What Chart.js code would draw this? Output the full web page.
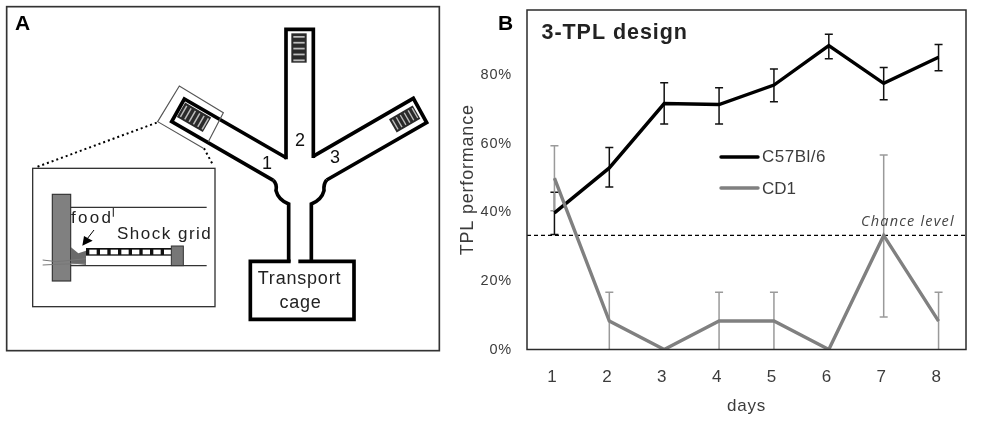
<!DOCTYPE html>
<html>
<head>
<meta charset="utf-8">
<title>3-TPL design</title>
<script src="https://cdn.jsdelivr.net/npm/chart.js@4"></script>
<style>
html,body{margin:0;padding:0;background:#fff;overflow:hidden}
canvas{display:block;filter:blur(0.35px)}
</style>
</head>
<body>
<canvas id="c" width="1000" height="422"></canvas>
<script>
const days = ['1','2','3','4','5','6','7','8'];
const c57Values = [39.9, 53.0, 71.8, 71.5, 77.2, 88.7, 77.7, 85.3];
const c57High = [45.9, 59.0, 77.9, 76.4, 81.9, 92.0, 82.3, 89.0];
const c57Low = [33.6, 47.4, 65.8, 65.8, 72.3, 84.9, 72.9, 81.4];
const cd1Values = [50.0, 8.3, 0, 8.3, 8.3, 0, 33.3, 8.3];
const cd1High = [59.5, 16.7, 0, 16.7, 16.7, 0, 56.8, 16.7];
const cd1Low = [40.5, 0, 0, 0, 0, 0, 9.5, 0];
const chanceLevel = 33.3;
const FONT = '"Liberation Sans", Arial, sans-serif';
const TEXT = '#3c3c3c';

function text(ctx, s, x, y, font, color, align, spacing) {
  ctx.font = font;
  ctx.fillStyle = color || TEXT;
  ctx.textAlign = align || 'left';
  ctx.textBaseline = 'middle';
  ctx.letterSpacing = (spacing || 0) + 'px';
  ctx.fillText(s, x, y);
  ctx.letterSpacing = '0px';
}
function poly(ctx, pts, close) {
  ctx.beginPath();
  pts.forEach((p, i) => i ? ctx.lineTo(p[0], p[1]) : ctx.moveTo(p[0], p[1]));
  if (close) ctx.closePath();
}
function stripedGrid(ctx, cx, cy, w, h, angle, n) {
  ctx.save();
  ctx.translate(cx, cy);
  ctx.rotate(angle);
  ctx.fillStyle = '#2a2a2a';
  ctx.fillRect(-w / 2, -h / 2, w, h);
  ctx.fillStyle = '#bdbdbd';
  const step = w / n;
  for (let i = 0; i < n; i++) {
    ctx.fillRect(-w / 2 + step * i + step * 0.45, -h / 2 + 6, step * 0.3, h - 12);
  }
  ctx.restore();
}

const spacing = {
  id: 'spacing',
  beforeDraw(chart) { chart.ctx.letterSpacing = '0.8px'; },
  afterDatasetsDraw(chart) { chart.ctx.letterSpacing = '0px'; }
};

const schematic = {
  id: 'schematic',
  afterDraw(chart) {
    const ctx = chart.ctx;
    ctx.save();
    ctx.lineJoin = 'miter';
    ctx.lineCap = 'butt';
    ctx.scale(1 / 3, 1 / 3);

    // panel frame
    ctx.strokeStyle = '#333';
    ctx.lineWidth = 5;
    ctx.strokeRect(20, 20, 1298, 1032);

    // maze outline
    ctx.strokeStyle = '#000';
    ctx.lineWidth = 11;
    poly(ctx, [[858,478],[858,88],[940,88],[940,474]]);
    ctx.stroke();
    poly(ctx, [[860,474],[553,297],[515,365],[820,541]]);
    ctx.stroke();
    poly(ctx, [[938,470],[1240,295],[1280,368],[980,540]]);
    ctx.stroke();
    ctx.beginPath();
    ctx.moveTo(820, 541);
    ctx.quadraticCurveTo(832, 552, 828, 572);
    ctx.quadraticCurveTo(835, 600, 866, 612);
    ctx.lineTo(866, 785);
    ctx.stroke();
    ctx.beginPath();
    ctx.moveTo(980, 540);
    ctx.quadraticCurveTo(970, 552, 972, 572);
    ctx.quadraticCurveTo(965, 600, 934, 612);
    ctx.lineTo(934, 785);
    ctx.stroke();
    poly(ctx, [[872,784],[751,784],[751,958],[1062,958],[1062,784],[895,784]]);
    ctx.stroke();

    // shock grids
    stripedGrid(ctx, 897, 144, 88, 46, Math.PI / 2, 5);
    stripedGrid(ctx, 582, 352, 90, 50, Math.PI / 6, 6);
    stripedGrid(ctx, 1214, 357, 82, 46, -Math.PI / 6, 6);

    // magnifier box and dotted leaders
    ctx.strokeStyle = '#555';
    ctx.lineWidth = 3.5;
    poly(ctx, [[625,425],[670,338],[538,258],[473,365],[610,445]]);
    ctx.stroke();
    ctx.strokeStyle = '#000';
    ctx.lineWidth = 6;
    ctx.setLineDash([6, 9]);
    poly(ctx, [[470,368],[105,503]]);
    ctx.stroke();
    poly(ctx, [[612,445],[640,497]]);
    ctx.stroke();
    ctx.setLineDash([]);

    // inset
    ctx.strokeStyle = '#333';
    ctx.lineWidth = 4;
    ctx.strokeRect(98, 505, 547, 415);
    ctx.lineWidth = 3.5;
    poly(ctx, [[212,622],[620,622]]); ctx.stroke();
    poly(ctx, [[212,797],[620,797]]); ctx.stroke();
    poly(ctx, [[340,622],[340,650]]); ctx.stroke();
    ctx.fillStyle = '#808080';
    ctx.fillRect(157, 583, 55, 260);
    ctx.strokeRect(157, 583, 55, 260);
    // animal
    ctx.fillStyle = '#6a6a6a';
    poly(ctx, [[213,742],[235,760],[258,752],[258,795],[213,790]], true);
    ctx.fill();
    ctx.strokeStyle = '#777';
    ctx.lineWidth = 3;
    poly(ctx, [[128,780],[170,785],[258,776]]); ctx.stroke();
    poly(ctx, [[128,795],[170,793],[258,790]]); ctx.stroke();
    // ladder
    ctx.fillStyle = '#111';
    ctx.fillRect(258, 744, 256, 23);
    ctx.fillStyle = '#fff';
    for (let x = 268; x < 505; x += 32) ctx.fillRect(x, 749, 22, 14);
    ctx.fillStyle = '#777';
    ctx.strokeStyle = '#333';
    ctx.lineWidth = 3;
    ctx.fillRect(514, 738, 36, 59);
    ctx.strokeRect(514, 738, 36, 59);
    // arrow
    ctx.fillStyle = '#000';
    poly(ctx, [[247,737],[252,708],[278,722]], true);
    ctx.fill();
    ctx.strokeStyle = '#000';
    ctx.lineWidth = 3;
    poly(ctx, [[262,716],[282,690]]); ctx.stroke();
    ctx.restore();

    // panel A text
    ctx.save();
    text(ctx, 'A', 15, 24, 'bold 21px ' + FONT, '#000');
    text(ctx, '1', 267, 164, '18px ' + FONT, '#111', 'center');
    text(ctx, '2', 300, 141, '18px ' + FONT, '#111', 'center');
    text(ctx, '3', 335, 158, '18px ' + FONT, '#111', 'center');
    text(ctx, 'Transport', 299.5, 279, '18px ' + FONT, '#222', 'center', 0.8);
    text(ctx, 'cage', 300.5, 303, '18px ' + FONT, '#222', 'center', 0.8);
    text(ctx, 'food', 71, 218, '17px ' + FONT, '#222', 'left', 2.3);
    text(ctx, 'Shock grid', 117, 234, '17px ' + FONT, '#222', 'left', 1.5);

    // panel B text and frame
    const a = chart.chartArea;
    ctx.strokeStyle = '#2b2b2b';
    ctx.lineWidth = 1.5;
    ctx.strokeRect(a.left, a.top, a.right - a.left, a.bottom - a.top);
    text(ctx, 'B', 498, 24, 'bold 21px ' + FONT, '#000');
    text(ctx, '3-TPL design', 541.5, 33, 'bold 21.5px ' + FONT, '#222', 'left', 0.95);
    text(ctx, 'Chance level', 861, 221.5, 'italic 14.5px "Open Sans", ' + FONT, '#444', 'left', 1.2);

    // legend
    ctx.lineCap = 'round';
    ctx.lineWidth = 3.4;
    ctx.strokeStyle = chart.data.datasets[0].borderColor;
    poly(ctx, [[721,157],[758,157]]); ctx.stroke();
    ctx.strokeStyle = chart.data.datasets[1].borderColor;
    poly(ctx, [[721,188],[758,188]]); ctx.stroke();
    text(ctx, chart.data.datasets[0].label, 762, 157.5, '17px ' + FONT, TEXT, 'left', 0.5);
    text(ctx, chart.data.datasets[1].label, 762, 189, '17px ' + FONT, TEXT, 'left', 0);
    ctx.restore();
  }
};

const errorBars = {
  id: 'errorBars',
  beforeDatasetsDraw(chart) {
    const ctx = chart.ctx, x = chart.scales.x, y = chart.scales.y;
    const draw = (hi, lo, color) => {
      ctx.strokeStyle = color;
      ctx.lineWidth = 1.5;
      days.forEach((d, i) => {
        if (hi[i] === lo[i]) return;
        const px = x.getPixelForValue(i);
        const top = y.getPixelForValue(hi[i]), bot = y.getPixelForValue(lo[i]);
        ctx.beginPath();
        ctx.moveTo(px, top); ctx.lineTo(px, bot);
        ctx.moveTo(px - 4, top); ctx.lineTo(px + 4, top);
        if (lo[i] > 0) { ctx.moveTo(px - 4, bot); ctx.lineTo(px + 4, bot); }
        ctx.stroke();
      });
    };
    ctx.save();
    draw(c57High, c57Low, '#111');
    draw(cd1High, cd1Low, '#9a9a9a');
    // chance level
    const cy = y.getPixelForValue(chanceLevel);
    ctx.strokeStyle = '#000';
    ctx.lineWidth = 1.3;
    ctx.setLineDash([4, 3]);
    ctx.beginPath();
    ctx.moveTo(chart.chartArea.left, cy);
    ctx.lineTo(chart.chartArea.right, cy);
    ctx.stroke();
    ctx.restore();
  }
};

Chart.defaults.font.family = FONT;
new Chart(document.getElementById('c'), {
  type: 'line',
  data: {
    labels: days,
    datasets: [
      { label: 'C57Bl/6', data: c57Values, borderColor: '#000000', borderWidth: 3.4, pointRadius: 0, tension: 0, order: 1, borderJoinStyle: 'miter' },
      { label: 'CD1', data: cd1Values, borderColor: '#808080', borderWidth: 3.4, pointRadius: 0, tension: 0, order: 0, borderJoinStyle: 'miter' }
    ]
  },
  options: {
    responsive: false,
    animation: false,
    events: [],
    layout: { padding: { left: 455, right: 34, top: 10, bottom: 0 } },
    plugins: { legend: { display: false }, tooltip: { enabled: false }, title: { display: false } },
    scales: {
      x: {
        offset: true,
        grid: { display: false, drawTicks: false },
        border: { display: false },
        ticks: { color: TEXT, font: { size: 17 }, padding: 18, labelOffset: -2, maxRotation: 0 },
        title: { display: true, text: 'days', color: TEXT, font: { size: 17 }, padding: { top: 0, bottom: 5 } },
        afterFit(s) { s.height = 72.5; }
      },
      y: {
        min: 0,
        max: 99.1,
        grid: { display: false, drawTicks: false },
        border: { display: false },
        ticks: { color: TEXT, font: { size: 14.5 }, stepSize: 20, includeBounds: false, padding: 15, callback: v => v + '%' },
        title: { display: true, text: 'TPL performance', color: TEXT, font: { size: 18 }, padding: { top: 2, bottom: 0 } },
        afterFit(s) { s.width = 72; s.paddingTop = 0; s.paddingBottom = 0; }
      }
    }
  },
  plugins: [spacing, errorBars, schematic]
});
</script>
</body>
</html>
